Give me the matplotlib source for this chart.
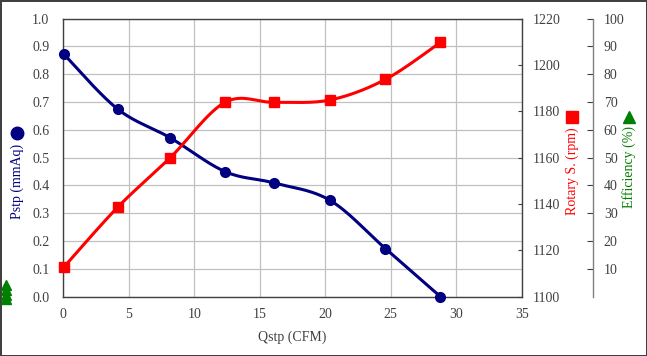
import numpy as np
import matplotlib.pyplot as plt
from matplotlib.lines import Line2D

plt.rcParams['font.family'] = ['Liberation Serif', 'DejaVu Serif']

# data
qstp = [0.05, 4.15, 8.15, 12.35, 16.1, 20.35, 24.6, 28.8]
pstp = [0.872, 0.675, 0.572, 0.450, 0.409, 0.347, 0.173, 0.0]
rpm = [1112.8, 1138.6, 1159.9, 1183.9, 1183.9, 1184.9, 1193.8, 1209.8]

x_ticks = [0, 5, 10, 15, 20, 25, 30, 35]
p_ticks = [0.0, 0.1, 0.2, 0.3, 0.4, 0.5, 0.6, 0.7, 0.8, 0.9, 1.0]
rpm_ticks = [1100, 1120, 1140, 1160, 1180, 1200, 1220]
eff_ticks = [10, 20, 30, 40, 50, 60, 70, 80, 90, 100]

NAVY = '#000080'
RED = '#ff0000'
GREEN = '#008000'
TXT = '#404040'


def smooth(xs, ys, n=30):
    # excel style smoothed line (catmull-rom bezier)
    p = np.column_stack([xs, ys]).astype(float)
    p = np.vstack([p[0], p, p[-1]])
    out = []
    for i in range(1, len(p) - 2):
        p0, p1, p2, p3 = p[i - 1], p[i], p[i + 1], p[i + 2]
        c1 = p1 + (p2 - p0) / 6
        c2 = p2 - (p3 - p1) / 6
        t = np.linspace(0, 1, n)[:, None]
        seg = ((1 - t) ** 3) * p1 + 3 * ((1 - t) ** 2) * t * c1 + 3 * (1 - t) * t ** 2 * c2 + t ** 3 * p2
        out.append(seg)
    out = np.vstack(out)
    return out[:, 0], out[:, 1]


fig = plt.figure(figsize=(6.47, 3.56), dpi=100)
fig.patch.set_edgecolor('#404040')
fig.patch.set_linewidth(2)

ax = fig.add_axes([0.0978, 0.1666, 0.7085, 0.7809])
ax.set_xlim(0, 35)
ax.set_ylim(0, 1.0)
ax.set_xticks(x_ticks)
ax.set_yticks(p_ticks)
ax.set_yticklabels(['%.1f' % v for v in p_ticks])
ax.grid(True, color='#c0c0c0', linewidth=0.9)
ax.set_axisbelow(True)
ax.tick_params(axis='both', direction='in', length=0, labelsize=10, labelcolor=TXT)
ax.tick_params(axis='y', pad=10)
ax.tick_params(axis='x', pad=8)
for s in ax.spines.values():
    s.set_color('#404040')
    s.set_linewidth(1.0)
ax.set_xlabel('Qstp (CFM)', fontsize=10, color=TXT, labelpad=7)

# rotary speed axis
ax2 = ax.twinx()
ax2.set_ylim(1100, 1220)
ax2.set_yticks(rpm_ticks)
ax2.tick_params(axis='y', direction='in', length=3, pad=8, labelsize=10, labelcolor=TXT, color='#404040')
for s in ax2.spines.values():
    s.set_visible(False)

# efficiency axis
ax3 = ax.twinx()
ax3.set_ylim(0, 100)
ax3.set_yticks(eff_ticks)
ax3.spines['right'].set_position(('axes', 1.155))
for k in ['left', 'top', 'bottom']:
    ax3.spines[k].set_visible(False)
ax3.spines['right'].set_color('#808080')
ax3.spines['right'].set_linewidth(1.0)
ax3.tick_params(axis='y', direction='in', length=4, pad=8, labelsize=10, labelcolor=TXT, color='#404040')

# curves
sx, sy = smooth(qstp, pstp)
ax.plot(sx, sy, color=NAVY, linewidth=2.2, zorder=3)
ax.plot(qstp, pstp, 'o', color=NAVY, markersize=7, zorder=4, clip_on=False)

rx, ry = smooth(qstp, rpm)
ax2.plot(rx, ry, color=RED, linewidth=2.2, zorder=3)
ax2.plot(qstp, rpm, 's', color=RED, markersize=7.5, zorder=4, clip_on=False)

# axis titles with their series markers
fig.text(17.3 / 647, 1 - 181 / 356, 'Pstp (mmAq)', rotation=90, color=NAVY,
         fontsize=10, ha='center', va='center')
fig.add_artist(Line2D([17.3 / 647], [1 - 132.7 / 356], marker='o', markersize=9,
                      color=NAVY, linestyle='none', transform=fig.transFigure))

fig.text(572 / 647, 1 - 171 / 356, 'Rotary S. (rpm)', rotation=90, color=RED,
         fontsize=10, ha='center', va='center')
fig.add_artist(Line2D([572 / 647], [1 - 117 / 356], marker='s', markersize=9,
                      color=RED, linestyle='none', transform=fig.transFigure))

fig.text(629 / 647, 1 - 167 / 356, 'Efficiency (%)', rotation=90, color=GREEN,
         fontsize=10, ha='center', va='center')
fig.add_artist(Line2D([629 / 647], [1 - 117 / 356], marker='^', markersize=9,
                      color=GREEN, linestyle='none', transform=fig.transFigure))

# stacked green triangles at bottom left
for yy in [285, 290, 294.5, 299]:
    fig.add_artist(Line2D([6 / 647], [1 - yy / 356], marker='^', markersize=7,
                          color=GREEN, linestyle='none', transform=fig.transFigure))

fig.savefig('out.png', dpi=100)
